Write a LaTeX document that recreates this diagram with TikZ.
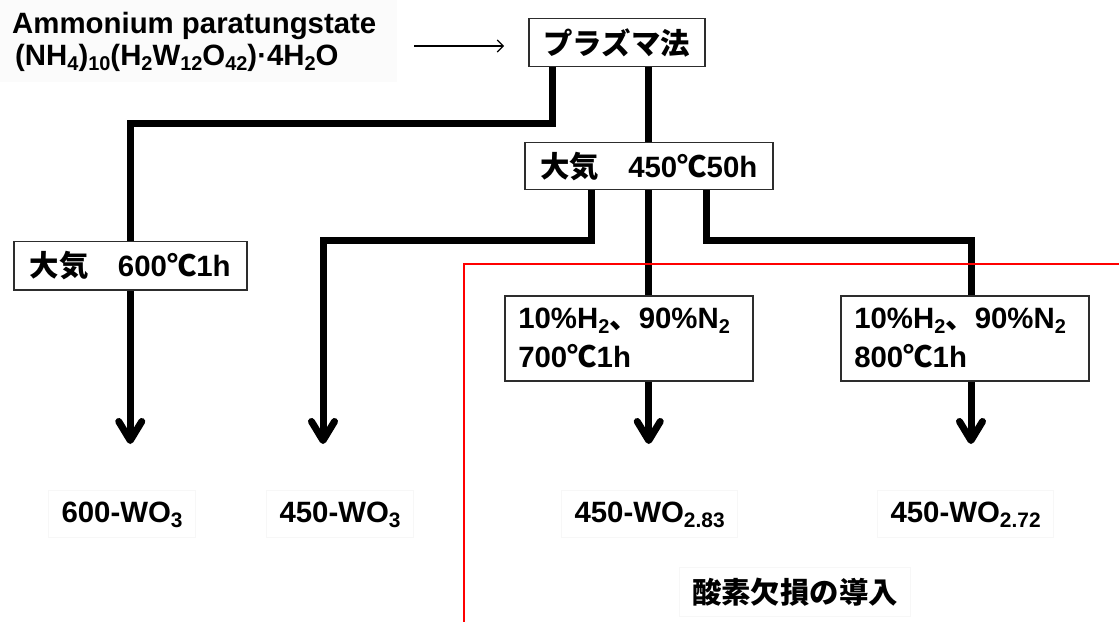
\documentclass[tikz,border=0pt]{standalone}
\usepackage{fontspec}
\setmainfont{Liberation Sans}
\newfontfamily\jp{Noto Sans CJK JP}
\usetikzlibrary{arrows.meta}
\newcommand\J[1]{{\jp #1}}
\newcommand\dn[2][20]{\raisebox{-5bp}{\fontsize{#1}{#1}\selectfont #2}}
\definecolor{redline}{RGB}{255,0,0}
\definecolor{boxc}{RGB}{45,45,45}
\begin{document}
\begin{tikzpicture}[x=1bp,y=-1bp,
  txt/.style={font=\fontsize{29.5}{39}\selectfont\bfseries, inner sep=0},
  box/.style={txt, draw=boxc, line width=1.5bp, fill=white, anchor=north west},
  lab/.style={txt, draw=black!3, line width=1bp, minimum height=47bp, inner xsep=13bp},
  flow/.style={line width=7bp, line join=miter},
  flowarrow/.style={flow, -{Straight Barb[length=19bp,width=23bp,round]}},
  thinarrow/.style={line width=1.1bp, -{Straight Barb[length=6bp,width=12bp]}},
  redl/.style={draw=redline, line width=2.2bp}
]
\fill[white] (0,0) rectangle (1119,622);
\useasboundingbox (0,0) rectangle (1119,622);
\fill[black!1.5] (0,0) rectangle (397,82);

% source text
\node[txt, anchor=base west] (src1) at (12,34) {Ammonium paratungstate};
\node[txt, anchor=base west] (src2) at (15,66)
  {(NH\dn{4})\dn{10}(H\dn{2}W\dn{12}O\dn{42})·4H\dn{2}O};

% boxes
\node[box, minimum width=176bp, minimum height=48bp] (plasma) at (528,18) {\J{プラズマ法}};
\node[box, minimum width=248bp, minimum height=47bp] (air450) at (524,142) {\J{大気　}450\J{℃}50h};
\node[box, minimum width=233bp, minimum height=48bp] (air600) at (13,241) {\J{大気　}600\J{℃}1h};
\node[box, text width=221bp, inner xsep=13.5bp, minimum height=85bp, align=left] (h700) at (504,295)
  {10\%H\dn{2}\J{、}90\%N\dn{2}\\700\J{℃}1h};
\node[box, text width=221bp, inner xsep=13.5bp, minimum height=85bp, align=left] (h800) at (840,295)
  {10\%H\dn{2}\J{、}90\%N\dn{2}\\800\J{℃}1h};

% product labels
\node[lab, anchor=base west] (w600) at (48,522) {600-WO\dn[21]{3}};
\node[lab, anchor=base west] (w450) at (266,522) {450-WO\dn[21]{3}};
\node[lab, anchor=base west] (w283) at (561,522) {450-WO\dn[21]{2.83}};
\node[lab, anchor=base west] (w272) at (877,522) {450-WO\dn[21]{2.72}};
\node[lab, minimum height=49bp] (oxy) at (795,592) {\J{酸素欠損の導入}};

% coordinates
\coordinate (yA) at (0,124);
\coordinate (yB) at (0,241);
\coordinate (tipY) at (0,444);
\coordinate (x450) at (323,0);
\coordinate (x800) at (971,0);
\coordinate (a1) at (414,46);
\coordinate (a2) at (504,46);
\coordinate (r1) at (1119,264);
\coordinate (r2) at (464,264);
\coordinate (r3) at (464,622);

% connectors
\draw[thinarrow] (a1) -- (a2);
\draw[flow] ([xshift=-64bp]plasma.south) |- (air600.north |- yA) -- (air600.north);
\draw[flow] (air450.north |- plasma.south) -- (air450.north);
\draw[flowarrow] (air600.south) -- (air600.south |- tipY);
\draw[flowarrow] ([xshift=-57bp]air450.south) |- (x450 |- yB) -- (x450 |- tipY);
\draw[flow] (air450.south) -- (air450.south |- h700.north);
\draw[flowarrow] (h700.south -| air450.south) -- (air450.south |- tipY);
\draw[flow] ([xshift=58bp]air450.south) |- (x800 |- yB) -- (x800 |- h800.north);
\draw[flowarrow] (x800 |- h800.south) -- (x800 |- tipY);

% red boundary
\draw[redl] (r1) -- (r2) -- (r3);
\end{tikzpicture}
\end{document}
